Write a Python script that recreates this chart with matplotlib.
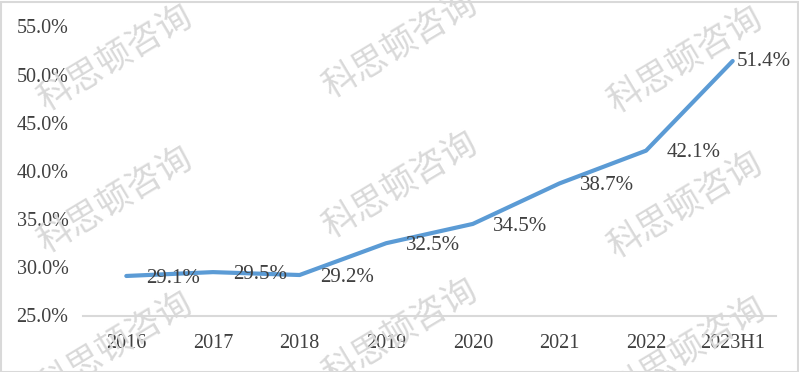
import matplotlib
matplotlib.use("Agg")
import matplotlib.pyplot as plt
from matplotlib.patches import Rectangle

categories = ["2016", "2017", "2018", "2019", "2020", "2021", "2022", "2023H1"]
values = [29.1, 29.5, 29.2, 32.5, 34.5, 38.7, 42.1, 51.4]
value_labels = ["29.1%", "29.5%", "29.2%", "32.5%", "34.5%", "38.7%", "42.1%", "51.4%"]
y_ticks = [25, 30, 35, 40, 45, 50, 55]
y_tick_labels = ["25.0%", "30.0%", "35.0%", "40.0%", "45.0%", "50.0%", "55.0%"]
watermark = "科思顿咨询"

W, H = 799, 372
fig = plt.figure(figsize=(W / 100, H / 100), dpi=100)
fig.patch.set_facecolor("white")

text_color = "#404040"
serif = ["Liberation Serif", "DejaVu Serif"]

ax = fig.add_axes([83 / W, 1 - 315.5 / H, 693 / W, (315.5 - 26.3) / H])
ax.set_facecolor("none")
x = list(range(len(categories)))
ax.plot(x, values, color="#5B9BD5", linewidth=3.0, solid_capstyle="round",
        solid_joinstyle="round", zorder=3)

for i, (v, lab) in enumerate(zip(values, value_labels)):
    dx = 3 if i == len(values) - 1 else 14.5
    dy = 0 if i == len(values) - 1 else -1.5
    ax.annotate(lab, (i, v), xytext=(dx, dy), textcoords="offset points",
                ha="left", va="center", fontsize=15, color=text_color,
                family=serif, zorder=4)

ax.set_xlim(-0.5, len(categories) - 0.5)
ax.set_ylim(25, 55)
ax.set_xticks(x)
ax.set_xticklabels(categories, family=serif, fontsize=14.5, color=text_color)
ax.set_yticks(y_ticks)
ax.set_yticklabels(y_tick_labels, family=serif, fontsize=14.5, color=text_color)
ax.tick_params(axis="both", length=0)
ax.tick_params(axis="x", pad=13)
ax.tick_params(axis="y", pad=10.5)
for s in ["top", "right", "left"]:
    ax.spines[s].set_visible(False)
ax.spines["bottom"].set_color("#d9d9d9")
ax.spines["bottom"].set_linewidth(1.5)

# watermarks
positions = [(115, 58), (400, 45), (685, 60),
             (115, 200), (400, 185), (685, 205),
             (115, 345), (400, 332), (688, 350)]
for (px, py) in positions:
    fig.text(px / W, 1 - py / H, watermark, rotation=31, ha="center", va="center",
             fontsize=25, color="#d9d9d9", family=["Noto Sans CJK SC"],
             zorder=0)

# border
fig.patches.append(Rectangle((0.5 / W, 0.5 / H), (W - 2) / W, (H - 2) / H,
                             transform=fig.transFigure, fill=False,
                             edgecolor="#d9d9d9", linewidth=1.5))

fig.savefig("out.png", dpi=100, facecolor="white")
